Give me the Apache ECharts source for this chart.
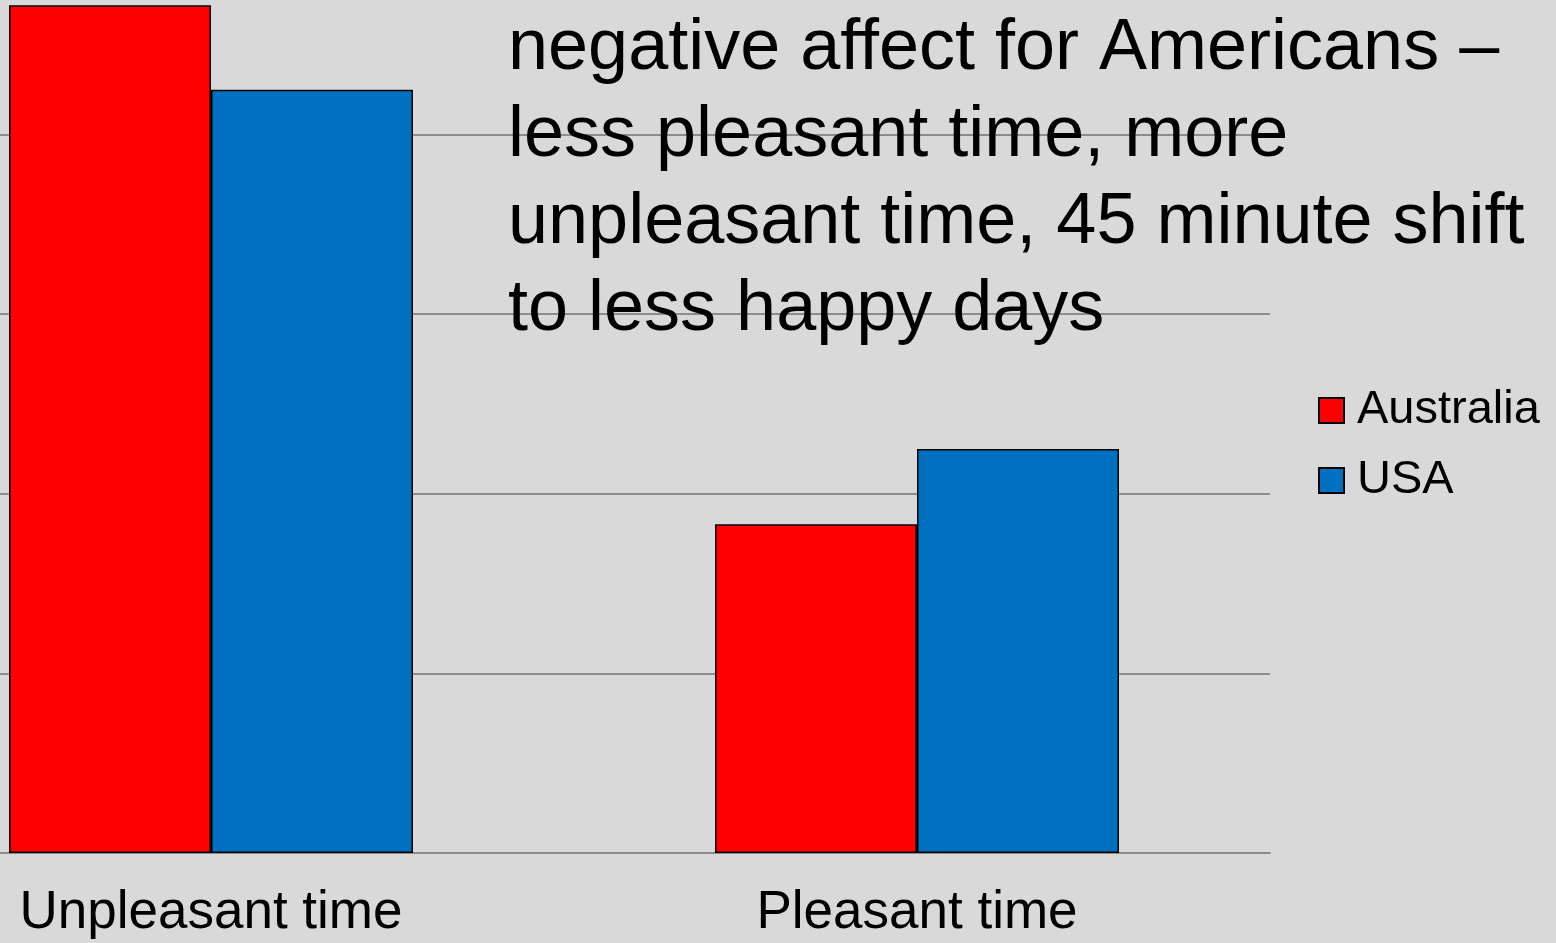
<!DOCTYPE html>
<html>
<head>
<meta charset="utf-8">
<style>
  html, body { margin: 0; padding: 0; background: #d9d9d9; overflow: hidden; width: 1556px; height: 943px; position: relative; }
  /* the plot continues past the top-left edge of the page, so the canvas is shifted */
  #chart { position: absolute; left: -142px; top: -45px; width: 1698px; height: 988px; }
</style>
<script src="https://cdn.jsdelivr.net/npm/echarts@6/dist/echarts.min.js"></script>
</head>
<body>
<div id="chart"></div>
<script>
// Time spent in unpleasant vs pleasant states, Australia and USA
const categories = ['Unpleasant time', 'Pleasant time'];
const australia = [4.72, 1.83];
const usa = [4.25, 2.25];
const seriesNames = ['Australia', 'USA'];
const headline = [
  'negative affect for Americans \u2013',
  'less pleasant time, more',
  'unpleasant time, 45 minute shift',
  'to less happy days'
];

const FONT = '"Liberation Sans", Arial, sans-serif';
const OX = 142, OY = 45; // canvas offset relative to the page
const chart = echarts.init(document.getElementById('chart'));

chart.setOption({
  backgroundColor: '#d9d9d9',
  animation: false,
  title: {
    text: headline.join('\n'),
    left: 508 + OX,
    top: 6 + OY,
    padding: 0,
    textStyle: {
      fontFamily: FONT,
      fontSize: 72,
      lineHeight: 87,
      fontWeight: 'normal',
      color: '#000'
    }
  },
  legend: {
    orient: 'vertical',
    left: 1318 + OX,
    top: 387 + OY,
    padding: 0,
    itemWidth: 25,
    itemHeight: 25,
    itemGap: 23,
    icon: 'rect',
    data: seriesNames,
    textStyle: {
      fontFamily: FONT,
      fontSize: 47,
      color: '#000',
      padding: [0, 0, 0, 8]
    }
  },
  grid: {
    left: 0,
    top: 0,
    width: 1412,
    height: 898,
    containLabel: false
  },
  xAxis: {
    type: 'category',
    data: categories,
    axisLine: { show: true, lineStyle: { color: '#8c8c8c', width: 2 } },
    axisTick: { show: false },
    axisLabel: {
      fontFamily: FONT,
      fontSize: 53,
      color: '#000',
      margin: 34
    }
  },
  yAxis: {
    type: 'value',
    min: 0,
    max: 5,
    interval: 1,
    axisLine: { show: false },
    axisTick: { show: false },
    axisLabel: { show: false },
    splitLine: { show: true, lineStyle: { color: '#8c8c8c', width: 2 } }
  },
  series: [
    {
      name: seriesNames[0],
      type: 'bar',
      data: australia,
      barWidth: 202,
      barGap: '0%',
      itemStyle: { color: '#ff0000', borderColor: '#000', borderWidth: 1.5 }
    },
    {
      name: seriesNames[1],
      type: 'bar',
      data: usa,
      barWidth: 202,
      barGap: '0%',
      itemStyle: { color: '#0070c0', borderColor: '#000', borderWidth: 1.5 }
    }
  ]
});
</script>
</body>
</html>
